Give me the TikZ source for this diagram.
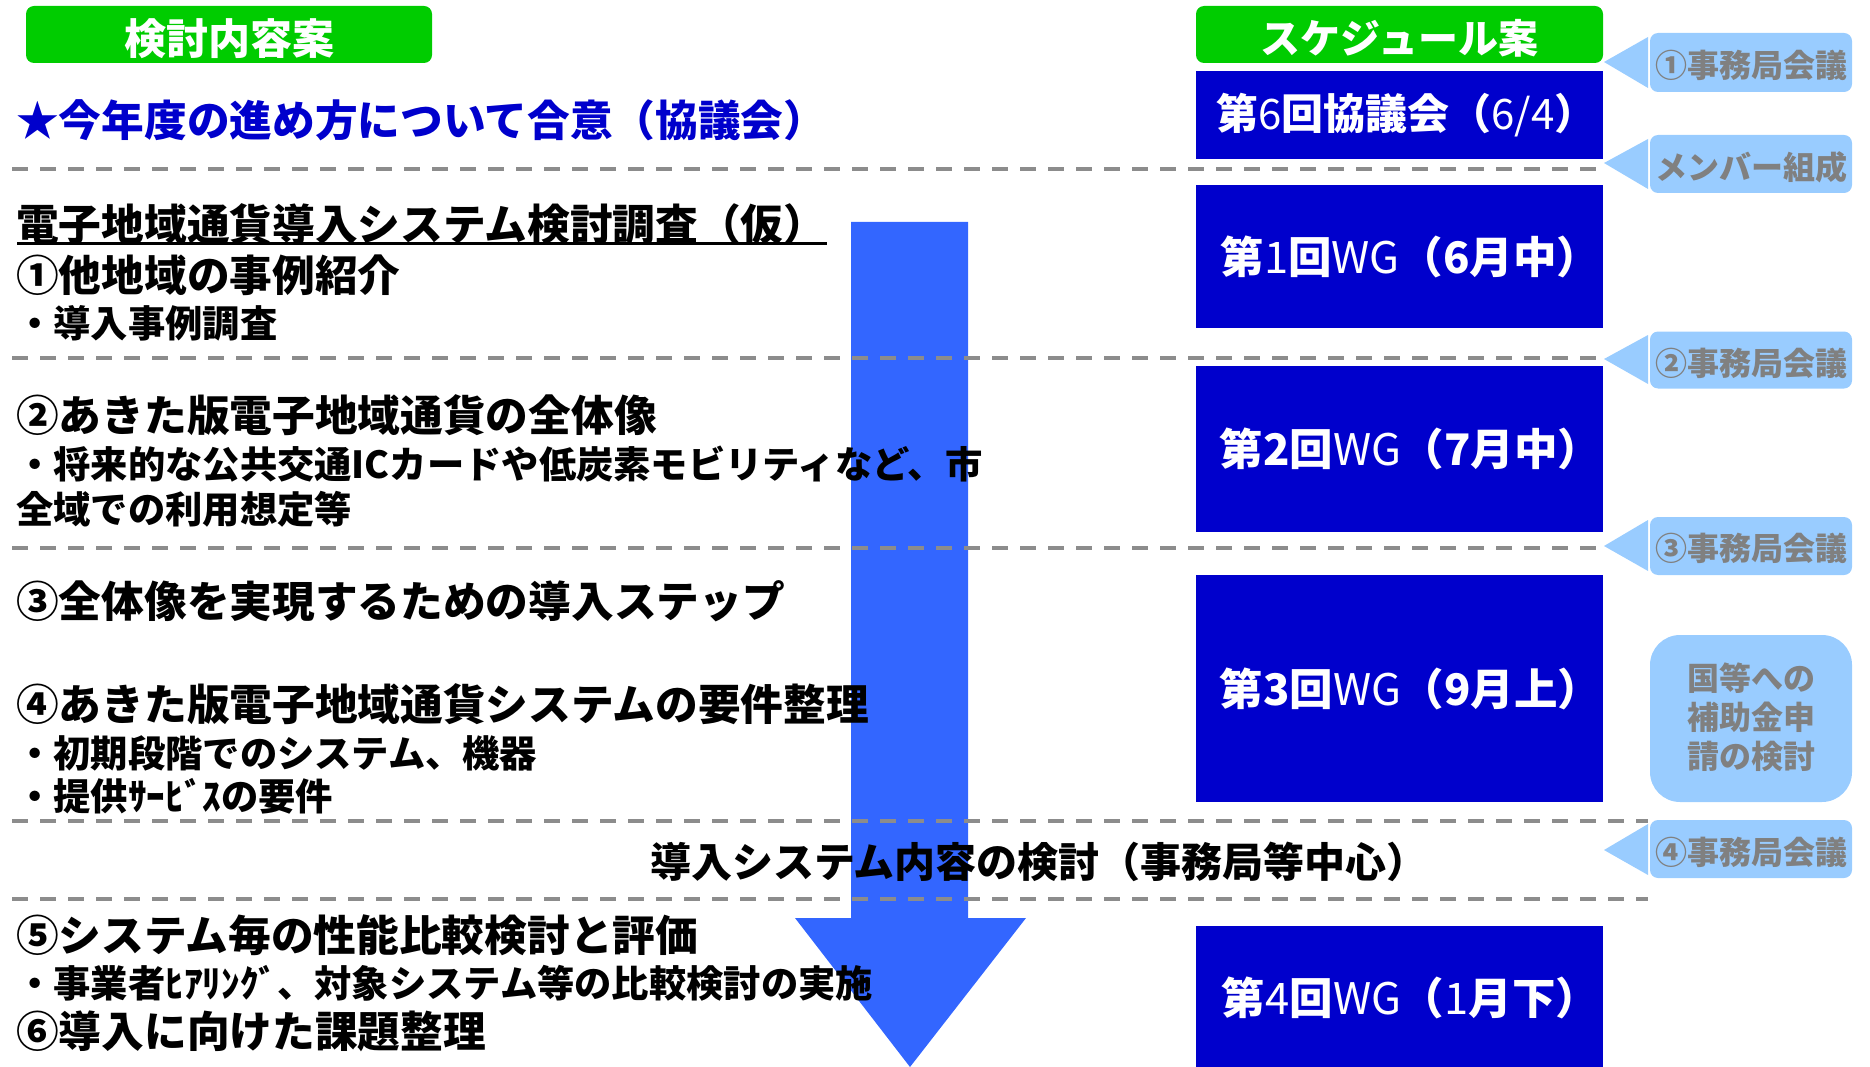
\documentclass[tikz,border=0pt]{standalone}
\usepackage{fontspec}
\setmainfont{Noto Sans CJK JP}
\definecolor{grn}{HTML}{00CC00}
\definecolor{dblue}{HTML}{0000CC}
\definecolor{arrowblue}{HTML}{3366FF}
\definecolor{lblue}{HTML}{99CCFF}
\definecolor{cgray}{HTML}{808080}
\definecolor{dgray}{HTML}{8C8C8C}
\newcommand{\lowr}[2]{\raisebox{-#1}[\height][\depth]{#2}}
\newcommand{\bxt}[1]{\hspace*{22pt}#1}
\begin{document}
\begin{tikzpicture}[x=1pt,y=-1pt,
  greenbox/.style={fill=grn, rounded corners=8pt, text=white, inner sep=0pt,
    font=\bfseries\fontsize{42}{48}\selectfont},
  bluebox/.style={fill=dblue, text=white, inner sep=0pt, minimum width=407pt,
    font=\bfseries\fontsize{43.5}{48}\selectfont},
  dashline/.style={draw=dgray, line width=4pt, dash pattern=on 16pt off 12pt},
  calloutbox/.style={fill=lblue, rounded corners=8pt, minimum width=202pt, inner sep=0pt,
    text=cgray, font=\bfseries\fontsize{32}{39}\selectfont, align=center},
  mainitem/.style={anchor=west, inner sep=0pt, font=\bfseries\fontsize{42.7}{48}\selectfont},
  subitem/.style={anchor=west, inner sep=0pt, font=\bfseries\fontsize{37.3}{42}\selectfont}
]
\useasboundingbox (0,0) rectangle (1870,1067);
% big arrow
\fill[arrowblue] (851,222) -- (968,222) -- (968,918) -- (1026,918) -- (910,1067)
  -- (795,918) -- (851,918) -- cycle;
% dashed separators
\draw[dashline] (12,169) -- (1604,169);
\draw[dashline] (12,358) -- (1604,358);
\draw[dashline] (12,548) -- (1604,548);
\draw[dashline] (12,821) -- (1648,821);
\draw[dashline] (12,899) -- (1648,899);
% headers
\node[greenbox, minimum width=406pt, minimum height=57pt] (h1) at (229,34.5) {\lowr{4pt}{検討内容案}};
\node[greenbox, minimum width=407pt, minimum height=57pt,
  font=\bfseries\fontsize{40}{46}\selectfont] (h2) at (1399.5,34.5) {\lowr{4pt}{スケジュール案}};
% schedule boxes
\node[bluebox, minimum height=88pt, font=\bfseries\fontsize{42}{48}\selectfont] (b6) at (1399.5,115)
  {\hspace*{14pt}第{\mdseries 6}回協議会（{\mdseries 6/4}）};
\node[bluebox, minimum height=143pt] (b1) at (1399.5,256.5) {\bxt{第{\mdseries 1}回{\mdseries WG}（6月中）}};
\node[bluebox, minimum height=166pt] (b2) at (1399.5,449) {\bxt{第2回{\mdseries WG}（7月中）}};
\node[bluebox, minimum height=227pt] (b3) at (1399.5,688.5) {\bxt{第3回{\mdseries WG}（9月上）}};
\node[bluebox, minimum height=144pt] (b4) at (1399.5,998) {\bxt{第{\mdseries 4}回{\mdseries WG}（{\mdseries 1}月下）}};
% callouts
\fill[lblue] (1648,37) -- (1604,62) -- (1648,88) -- cycle;
\node[calloutbox, minimum height=59pt] (c1) at (1751,62.5) {\lowr{3pt}{①事務局会議}};
\fill[lblue] (1648,139) -- (1604,163) -- (1648,189) -- cycle;
\node[calloutbox, minimum height=58pt] (c2) at (1751,164) {\lowr{3pt}{メンバー組成}};
\fill[lblue] (1648,335) -- (1604,359) -- (1648,384) -- cycle;
\node[calloutbox, minimum height=57pt] (c3) at (1751,360) {\lowr{3pt}{②事務局会議}};
\fill[lblue] (1648,520) -- (1604,546) -- (1648,571) -- cycle;
\node[calloutbox, minimum height=58pt] (c4) at (1751,546) {\lowr{2pt}{③事務局会議}};
\node[calloutbox, minimum height=167pt, rounded corners=30pt] (c5) at (1751,718.5)
  {\lowr{3pt}{\begin{tabular}{@{}c@{}}国等への\\補助金申\\請の検討\end{tabular}}};
\fill[lblue] (1648,824) -- (1604,850) -- (1648,875) -- cycle;
\node[calloutbox, minimum height=58pt] (c6) at (1751,849) {\lowr{3pt}{④事務局会議}};
% left texts
\node[mainitem, text=dblue] (t0) at (16,120) {★今年度の進め方について合意（協議会）};
\node[mainitem] (t1) at (16,224) {電子地域通貨導入システム検討調査（仮）};
\draw[line width=3pt] (17,244) -- (827,244);
\node[mainitem] (t2) at (16,275) {①他地域の事例紹介};
\node[subitem] (t3) at (16,323) {・導入事例調査};
\node[mainitem] (t4) at (16,415) {②あきた版電子地域通貨の全体像};
\node[subitem] (t5) at (16,464) {・将来的な公共交通ICカードや低炭素モビリティなど、市};
\node[subitem] (t6) at (16,509) {全域での利用想定等};
\node[mainitem] (t7) at (16,601) {③全体像を実現するための導入ステップ};
\node[mainitem] (t8) at (16,704) {④あきた版電子地域通貨システムの要件整理};
\node[subitem] (t9) at (16,753) {・初期段階でのシステム、機器};
\node[subitem] (t10) at (16,796) {・提供ｻｰﾋﾞｽの要件};
\node[mainitem, anchor=center, font=\bfseries\fontsize{41}{46}\selectfont] (t11) at (1039,862) {導入システム内容の検討（事務局等中心）};
\node[mainitem] (t12) at (16,935) {⑤システム毎の性能比較検討と評価};
\node[subitem] (t13) at (16,983) {・事業者ﾋｱﾘﾝｸﾞ、対象システム等の比較検討の実施};
\node[mainitem] (t14) at (16,1031) {⑥導入に向けた課題整理};
\end{tikzpicture}
\end{document}
